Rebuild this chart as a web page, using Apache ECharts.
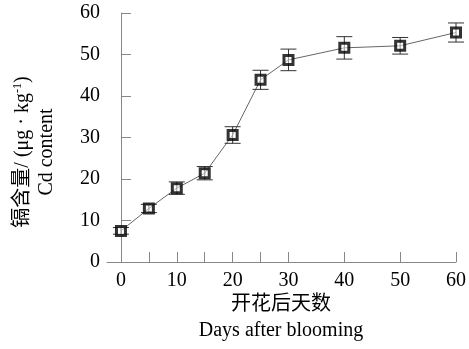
<!DOCTYPE html>
<html><head><meta charset="utf-8">
<script src="https://cdn.jsdelivr.net/npm/echarts@6/dist/echarts.min.js"></script>
<style>html,body{margin:0;padding:0;background:#fff}#c{width:469px;height:349px}</style>
</head><body><div id="c"></div>
<script>
var days = [0, 5, 10, 15, 20, 25, 30, 40, 50, 60];
var cdValues = [7.5, 12.9, 17.8, 21.4, 30.6, 43.9, 48.7, 51.6, 52.1, 55.3];
var cdErrors = [0.8, 1.0, 1.5, 1.6, 2.0, 2.3, 2.6, 2.7, 2.0, 2.3];
var xTickValues = [0, 5, 10, 15, 20, 25, 30, 40, 50, 60];
var xLabelValues = [0, 10, 20, 30, 40, 50, 60];
var xTitleCn = '开花后天数';
var xTitleEn = 'Days after blooming';
var yTitleEn = 'Cd content';

var serif = '"Liberation Serif","DejaVu Serif","Noto Sans CJK SC",serif';
var chart = echarts.init(document.getElementById('c'), null, {renderer: 'canvas'});
var pts = days.map(function (d, i) { return [d, cdValues[i]]; });
var errs = days.map(function (d, i) { return [d, cdValues[i] - cdErrors[i], cdValues[i] + cdErrors[i]]; });

chart.setOption({
  animation: false,
  grid: {left: 107, right: 12, top: 13, bottom: 87, containLabel: false},
  xAxis: {
    type: 'value', min: -2.5, max: 60,
    axisLine: {show: true, lineStyle: {color: '#888', width: 1}},
    axisTick: {show: true, inside: true, length: 10, lineStyle: {color: '#888'}, customValues: xTickValues},
    axisLabel: {margin: 9, color: '#000', fontSize: 20, fontFamily: serif, customValues: xLabelValues},
    splitLine: {show: false}
  },
  yAxis: {
    type: 'value', min: 0, max: 60, interval: 10,
    axisLine: {show: true, lineStyle: {color: '#888', width: 1}},
    axisTick: {show: true, inside: true, length: 10, lineStyle: {color: '#888'}},
    axisLabel: {margin: 7, color: '#000', fontSize: 20, fontFamily: serif},
    splitLine: {show: false}
  },
  series: [
    {type: 'line', data: pts, symbol: 'none', lineStyle: {color: '#666', width: 1}, z: 2},
    {type: 'custom', data: errs, z: 3,
     renderItem: function (params, api) {
       var x = api.value(0);
       var lo = api.coord([x, api.value(1)]);
       var hi = api.coord([x, api.value(2)]);
       var hw = 8;
       var st = {stroke: '#333', lineWidth: 1};
       return {type: 'group', children: [
         {type: 'line', shape: {x1: lo[0], y1: lo[1], x2: hi[0], y2: hi[1]}, style: st},
         {type: 'line', shape: {x1: lo[0] - hw, y1: lo[1], x2: lo[0] + hw, y2: lo[1]}, style: st},
         {type: 'line', shape: {x1: hi[0] - hw, y1: hi[1], x2: hi[0] + hw, y2: hi[1]}, style: st}
       ]};
     }},
    {type: 'scatter', data: pts, symbol: 'rect', symbolSize: 9,
     itemStyle: {color: 'rgba(255,255,255,0.6)', borderColor: '#000', borderWidth: 3}, z: 4}
  ],
  graphic: [
    {type: 'text', x: 281, y: 305, style: {text: xTitleCn, font: '20px ' + serif, fill: '#000', align: 'center', verticalAlign: 'middle'}},
    {type: 'text', x: 281, y: 331, style: {text: xTitleEn, font: '20px ' + serif, fill: '#000', align: 'center', verticalAlign: 'middle'}},
    {type: 'text', x: 23, y: 152, rotation: Math.PI / 2,
     style: {text: '{a|镉含量/ (μg · kg}{s|-1}{a|)}', align: 'center', verticalAlign: 'middle',
       rich: {a: {fontSize: 20, fontFamily: serif, fill: '#000', lineHeight: 22},
              s: {fontSize: 12, fontFamily: serif, fill: '#000', verticalAlign: 'top', lineHeight: 22}}}},
    {type: 'text', x: 47, y: 152, rotation: Math.PI / 2,
     style: {text: yTitleEn, font: '20px ' + serif, fill: '#000', align: 'center', verticalAlign: 'middle'}}
  ]
});
</script></body></html>
